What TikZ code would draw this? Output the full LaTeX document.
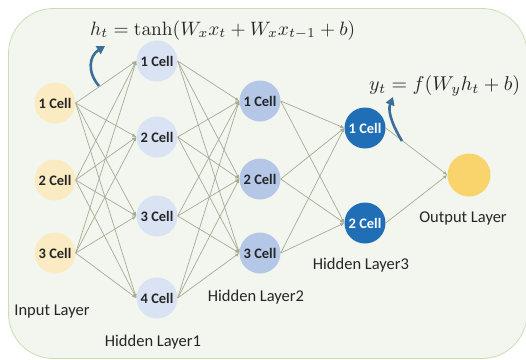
\documentclass[tikz,border=0pt]{standalone}
\usepackage[no-math]{fontspec}
\setmainfont{Carlito}
\usepackage{graphicx}
\usetikzlibrary{arrows.meta}
\definecolor{bgfill}{HTML}{F2F6EE}
\definecolor{bgline}{HTML}{C8DEB4}
\definecolor{incol}{HTML}{FBEBC3}
\definecolor{hone}{HTML}{DAE3F3}
\definecolor{htwo}{HTML}{B4C7E7}
\definecolor{hthree}{HTML}{1F6EB6}
\definecolor{outcol}{HTML}{F9D46C}
\definecolor{edgecol}{HTML}{A9AA94}
\definecolor{txtcol}{HTML}{262626}
\definecolor{arrcol}{HTML}{3C6E9A}
\tikzset{
  cell/.style={circle, draw=none, minimum size=41pt, inner sep=0pt, font=\fontsize{14.5}{16}\selectfont\bfseries, text=txtcol},
  incell/.style={cell, fill=incol},
  honecell/.style={cell, fill=hone},
  htwocell/.style={cell, fill=htwo},
  hthreecell/.style={cell, fill=hthree, text=white},
  outcell/.style={cell, fill=outcol, minimum size=43pt},
  layerlabel/.style={font=\fontsize{16.5}{19}\selectfont, text=txtcol, inner sep=0pt},
  conn/.style={draw=edgecol, line width=0.7pt, -{Latex[length=4pt,width=3.5pt]}},
  curvearrow/.style={draw=arrcol, line width=2.6pt, -{Triangle[length=8pt,width=9pt]}},
  eq/.style={text=txtcol, inner sep=0pt, anchor=base west}
}
\begin{document}
\begin{tikzpicture}[x=1pt,y=-1pt]
\useasboundingbox (0,0) rectangle (526,359);
\path[fill=bgfill, draw=bgline, line width=0.8pt, rounded corners=45pt] (8.5,8.5) rectangle (527,358.5);

% input layer
\node[incell] (i1) at (55,103) {1 Cell};
\node[incell] (i2) at (55,180) {2 Cell};
\node[incell] (i3) at (55,253) {3 Cell};
% hidden layer 1
\node[honecell] (a1) at (157,61) {1 Cell};
\node[honecell] (a2) at (157,137) {2 Cell};
\node[honecell] (a3) at (157,216) {3 Cell};
\node[honecell] (a4) at (157,298) {4 Cell};
% hidden layer 2
\node[htwocell] (b1) at (260,101) {1 Cell};
\node[htwocell] (b2) at (260,179) {2 Cell};
\node[htwocell] (b3) at (260,253) {3 Cell};
% hidden layer 3
\node[hthreecell] (c1) at (365,128) {1 Cell};
\node[hthreecell] (c2) at (365,223) {2 Cell};
% output
\node[outcell] (o) at (469,175) {};

% connections
\foreach \s in {i1,i2,i3}
  \foreach \t in {a1,a2,a3,a4}
    \draw[conn] (\s.east) -- (\t.west);
\foreach \s in {a1,a2,a3,a4}
  \foreach \t in {b1,b2,b3}
    \draw[conn] (\s.east) -- (\t.west);
\foreach \s in {b1,b2,b3}
  \foreach \t in {c1,c2}
    \draw[conn] (\s.east) -- (\t.west);
\foreach \s in {c1,c2}
  \draw[conn] (\s.east) -- (o.west);

% labels
\node[layerlabel] (li) at (52,312) {Input Layer};
\node[layerlabel] (l1) at (153,342) {Hidden Layer1};
\node[layerlabel] (l2) at (256,297) {Hidden Layer2};
\node[layerlabel] (l3) at (361,265) {Hidden Layer3};
\node[layerlabel] (lo) at (463,218) {Output Layer};

% equations
\node[eq] (eqh) at (90,35) {\resizebox{265pt}{!}{$h_t = \tanh(W_x x_t + W_x x_{t-1} + b)$}};
\node[eq] (eqy) at (369,90) {\resizebox{151pt}{!}{$y_t = f(W_y h_t + b)$}};

% curved arrows
\coordinate (s1) at (99,86);
\coordinate (e1) at (105,46);
\draw[curvearrow] (s1) .. controls (87,72) and (89,56) .. (e1);
\coordinate (s2) at (402,141);
\coordinate (e2) at (393,97);
\draw[curvearrow] (s2) .. controls (394,128) and (387,112) .. (e2);
\end{tikzpicture}
\end{document}
